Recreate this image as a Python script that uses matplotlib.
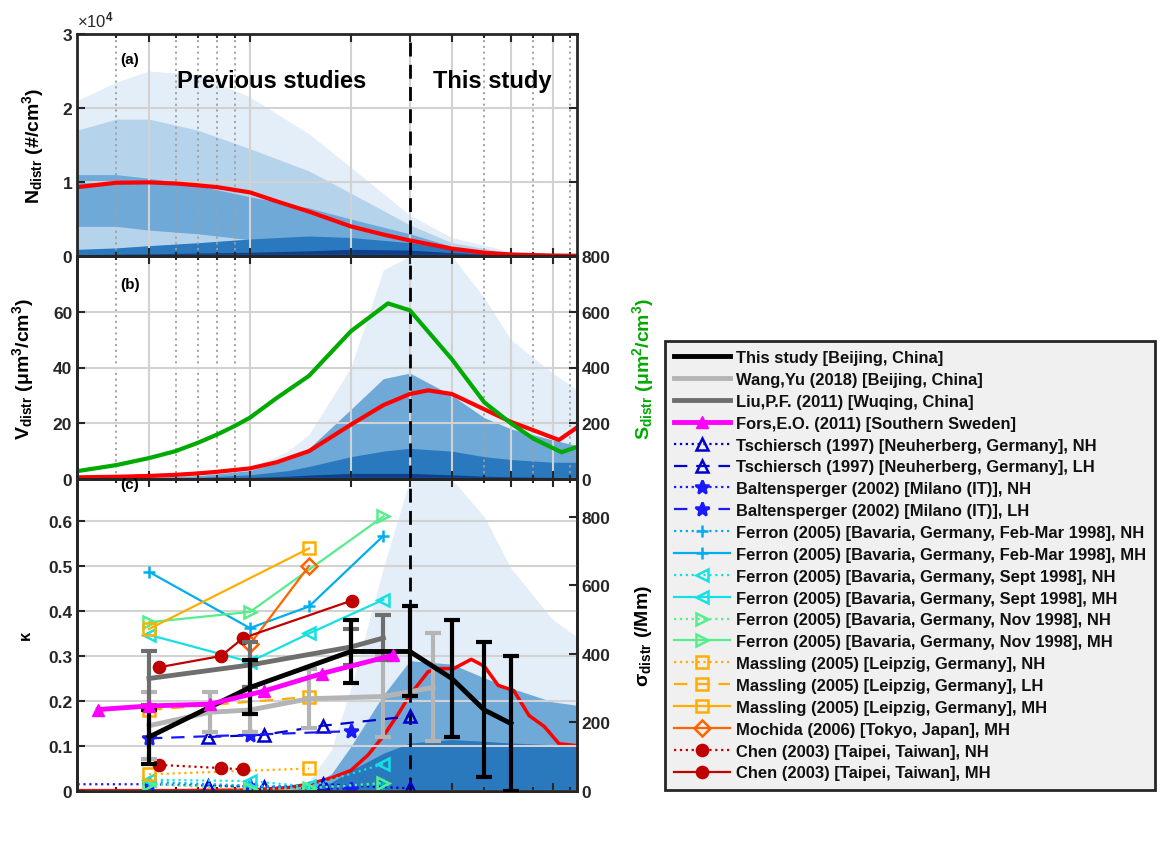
import matplotlib
matplotlib.use('Agg')
import matplotlib.pyplot as plt
from matplotlib.ticker import FixedLocator, FuncFormatter, NullFormatter

plt.rcParams['font.family'] = ['Liberation Sans', 'DejaVu Sans']
plt.rcParams['font.weight'] = 'bold'
plt.rcParams['axes.labelweight'] = 'bold'
plt.rcParams['mathtext.fontset'] = 'custom'
plt.rcParams['mathtext.rm'] = 'Liberation Sans:bold'
plt.rcParams['mathtext.it'] = 'Liberation Sans:italic:bold'
plt.rcParams['mathtext.bf'] = 'Liberation Sans:bold'
plt.rcParams['mathtext.default'] = 'rm'

# ---------------- data ----------------
x_min, x_max = 30.5, 945
major_dp = [50, 100, 200, 300, 400, 600, 800]
minor_dp = [40, 60, 70, 80, 90, 500, 700, 900]

# (a) number size distribution, mean curve
n_dp = [30.5, 40, 50, 60, 70, 80, 100, 120, 150, 200, 250, 300, 400, 500, 600, 800, 945]
n_mean = [9300, 9900, 9950, 9800, 9550, 9300, 8600, 7400, 6000, 4000, 2900, 2100,
          1000, 450, 200, 60, 30]
# (a) density envelopes
dens_a_dp = [30.5, 40, 50, 70, 100, 150, 200, 300, 400, 600, 945]
dens_a_outer = [21000, 23500, 25000, 24500, 21500, 16500, 12000, 5500, 2500, 600, 150]
dens_a_mid = [17000, 18500, 18500, 17000, 14500, 11500, 8500, 4200, 1800, 400, 100]
dens_a_core_hi = [11000, 11000, 10500, 9500, 8000, 6500, 5000, 3000, 1300, 250, 60]
dens_a_core_lo = [4000, 4000, 3500, 3000, 2200, 1200, 600, 200, 50, 0, 0]
dens_a_base = [900, 1100, 1400, 1800, 2300, 2700, 2500, 1800, 1000, 250, 50]
dens_a_navy = [200, 250, 300, 400, 500, 700, 900, 800, 450, 100, 20]

# (b) volume and surface distributions
v_dp = [30.5, 40, 50, 60, 70, 80, 100, 120, 150, 200, 250, 300, 340, 400, 500, 600,
        700, 835, 945]
v_mean = [0.6, 0.8, 1.1, 1.5, 2.0, 2.6, 3.8, 6.0, 10, 19.5, 26.5, 30.5, 31.8, 30.5,
          25, 20.5, 17.5, 14, 18.5]
s_dp = [30.5, 40, 50, 60, 70, 80, 90, 100, 120, 150, 200, 258, 300, 400, 500, 600,
        700, 850, 945]
s_mean = [28, 50, 75, 100, 130, 160, 190, 220, 290, 370, 530, 630, 605, 430, 275,
          200, 145, 96, 115]
dens_b_dp = [30.5, 50, 70, 100, 130, 150, 200, 250, 300, 400, 500, 600, 800, 945]
dens_b_light = [0.3, 0.8, 1.5, 4, 10, 16, 40, 75, 80, 80, 65, 50, 38, 32]
dens_b_mid = [0.2, 0.6, 1.2, 3, 7, 11, 25, 36, 38, 30, 22, 18, 14, 12]
dens_b_core = [0.1, 0.3, 0.6, 1.5, 3, 4.5, 8, 10, 11, 10, 8, 7, 6, 6]
dens_b_navy = [0.05, 0.15, 0.3, 0.6, 1.0, 1.4, 2, 2, 2, 1.5, 1, 0.8, 0.6, 0.5]

# (c) scattering distribution
sig_dp = [30.5, 60, 100, 130, 150, 175, 200, 225, 250, 275, 300, 340, 365, 405, 457,
          500, 550, 612, 680, 755, 835, 945]
sig_mean = [1, 1, 3, 10, 20, 38, 60, 105, 160, 220, 280, 348, 357, 357, 384, 364,
            308, 293, 220, 188, 138, 132]
dens_c_dp = [120, 150, 175, 200, 250, 300, 400, 500, 600, 800, 945]
dens_c_light = [0, 30, 120, 300, 650, 910, 910, 800, 650, 500, 450]
dens_c_mid = [0, 15, 50, 130, 280, 380, 370, 330, 300, 260, 250]
dens_c_core = [0, 8, 25, 60, 110, 140, 150, 145, 140, 135, 130]

# (c) hygroscopicity kappa
this_dp = [50, 100, 200, 300, 400, 500, 600]
this_k = [0.12, 0.23, 0.31, 0.31, 0.25, 0.18, 0.15]
this_err = [0.06, 0.06, 0.07, 0.10, 0.13, 0.15, 0.15]
wang_dp = [50, 76, 100, 150, 250, 352]
wang_k = [0.145, 0.175, 0.18, 0.205, 0.21, 0.23]
wang_err = [0.075, 0.045, 0.05, 0.065, 0.09, 0.12]
liu_dp = [50, 100, 200, 250]
liu_k = [0.25, 0.28, 0.32, 0.34]
liu_err = [0.06, 0.05, 0.04, 0.05]
fors_dp = [35.3, 50, 76, 110, 164, 268]
fors_k = [0.181, 0.189, 0.193, 0.222, 0.261, 0.302]
tsch_nh_dp = [75, 110, 165, 300]
tsch_nh_k = [0.012, 0.008, 0.015, 0.006]
tsch_lh_dp = [75, 110, 165, 300]
tsch_lh_k = [0.12, 0.125, 0.145, 0.166]
balt_nh_dp = [25, 50, 100, 200]
balt_nh_k = [0.015, 0.015, 0.01, 0.004]
balt_lh_dp = [50, 100, 200]
balt_lh_k = [0.117, 0.125, 0.133]
fer_fm_nh_dp = [50, 100, 150, 250]
fer_fm_nh_k = [0.02, 0.012, 0.008, 0.015]
fer_fm_mh_dp = [50, 100, 150, 250]
fer_fm_mh_k = [0.487, 0.362, 0.41, 0.567]
fer_sep_nh_dp = [50, 100, 150, 250]
fer_sep_nh_k = [0.025, 0.022, 0.01, 0.06]
fer_sep_mh_dp = [50, 100, 150, 250]
fer_sep_mh_k = [0.347, 0.287, 0.35, 0.425]
fer_nov_nh_dp = [50, 100, 150, 250]
fer_nov_nh_k = [0.015, 0.005, 0.006, 0.018]
fer_nov_mh_dp = [50, 100, 250]
fer_nov_mh_k = [0.375, 0.398, 0.61]
mass_nh_dp = [50, 150]
mass_nh_k = [0.037, 0.05]
mass_lh_dp = [50, 150]
mass_lh_k = [0.18, 0.209]
mass_mh_dp = [50, 150]
mass_mh_k = [0.36, 0.539]
moch_dp = [100, 150]
moch_k = [0.326, 0.50]
chen_nh_dp = [53.6, 82, 95.5]
chen_nh_k = [0.058, 0.051, 0.048]
chen_mh_dp = [53.6, 82, 95.5, 201]
chen_mh_k = [0.275, 0.30, 0.34, 0.423]

# ---------------- figure ----------------
fig = plt.figure(figsize=(11.6, 8.53), dpi=100)
L, W = 77 / 1160, 500 / 1160
ax_a = fig.add_axes([L, 1 - 257 / 853, W, 222 / 853])
ax_b = fig.add_axes([L, 1 - 480 / 853, W, 223 / 853])
ax_s = fig.add_axes([L, 1 - 792 / 853, W, 312 / 853])
ax_bs = ax_b.twinx()
ax_k = ax_s.twinx()

dark = '#262626'
c_light, c_pale, c_mid, c_core, c_base = '#e4eef8', '#b5d4ec', '#6fa9d8', '#2a78bd', '#0c3f8e'


def style(ax, grid=True):
    ax.set_xscale('log')
    ax.set_xlim(x_min, x_max)
    ax.xaxis.set_major_locator(FixedLocator(major_dp))
    ax.xaxis.set_minor_locator(FixedLocator(minor_dp))
    ax.xaxis.set_major_formatter(FuncFormatter(lambda v, p: '%d' % v))
    ax.xaxis.set_minor_formatter(NullFormatter())
    ax.tick_params(which='both', direction='in', top=True, colors=dark,
                   labelsize=12.5, width=1.5)
    ax.tick_params(which='major', length=6)
    ax.tick_params(which='minor', length=3)
    for sp in ax.spines.values():
        sp.set_color(dark)
        sp.set_linewidth(2)
    if grid:
        ax.grid(True, which='major', color='#d2d2d2', lw=1.5)
        ax.grid(True, which='minor', axis='x', color='#a0a0a0', ls=(0, (1.2, 2)), lw=1.3)


# panel (a)
ax_a.fill_between(dens_a_dp, 0, dens_a_outer, color=c_light, lw=0)
ax_a.fill_between(dens_a_dp, 0, dens_a_mid, color=c_pale, lw=0)
ax_a.fill_between(dens_a_dp, dens_a_core_lo, dens_a_core_hi, color=c_mid, lw=0)
ax_a.fill_between(dens_a_dp, 0, dens_a_base, color=c_core, lw=0)
ax_a.fill_between(dens_a_dp, 0, dens_a_navy, color=c_base, lw=0)
ax_a.plot(n_dp, n_mean, color='#ff0000', lw=3)
ax_a.axvline(300, color='k', ls=(0, (5, 3)), lw=2)
style(ax_a)
ax_a.set_ylim(0, 30000)
ax_a.set_yticks([0, 10000, 20000, 30000])
ax_a.yaxis.set_major_formatter(FuncFormatter(lambda v, p: '%g' % (v / 1e4)))
ax_a.tick_params(labelbottom=False, right=True)
ax_a.set_ylabel('N$_{distr}$ (#/cm$^{3}$)', fontsize=14, labelpad=12)
ax_a.text(0.106, 0.887, '(a)', transform=ax_a.transAxes, ha='center', va='center', fontsize=11)
ax_a.text(0.39, 0.79, 'Previous studies', transform=ax_a.transAxes, ha='center',
          va='center', fontsize=17)
ax_a.text(0.83, 0.79, 'This study', transform=ax_a.transAxes, ha='center',
          va='center', fontsize=17)
fig.text(77 / 1160, 1 - 20 / 853, '\u00d710$^{4}$', ha='left', va='center',
         fontsize=12, fontweight='normal', color=dark)

# panel (b)
ax_b.fill_between(dens_b_dp, 0, dens_b_light, color=c_light, lw=0)
ax_b.fill_between(dens_b_dp, 0, dens_b_mid, color=c_mid, lw=0)
ax_b.fill_between(dens_b_dp, 0, dens_b_core, color=c_core, lw=0)
ax_b.fill_between(dens_b_dp, 0, dens_b_navy, color=c_base, lw=0)
ax_b.plot(v_dp, v_mean, color='#ff0000', lw=3)
ax_b.axvline(300, color='k', ls=(0, (5, 3)), lw=2)
style(ax_b)
ax_b.set_ylim(0, 80)
ax_b.set_yticks([0, 20, 40, 60])
ax_b.tick_params(labelbottom=False)
ax_b.set_ylabel('V$_{distr}$ ($\\mu$m$^{3}$/cm$^{3}$)', fontsize=14, labelpad=12)
ax_b.text(0.106, 0.874, '(b)', transform=ax_b.transAxes, ha='center', va='center', fontsize=11)
ax_bs.plot(s_dp, s_mean, color='#00aa00', lw=3)
style(ax_bs, grid=False)
ax_bs.set_ylim(0, 800)
ax_bs.set_yticks([0, 200, 400, 600, 800])
ax_bs.tick_params(labelbottom=False)
ax_bs.set_ylabel('S$_{distr}$ ($\\mu$m$^{2}$/cm$^{3}$)', fontsize=14, color='#00aa00',
                 labelpad=14)

# panel (c): scattering on the main axis, kappa on the twin drawn above it
ax_s.fill_between(dens_c_dp, 0, dens_c_light, color=c_light, lw=0)
ax_s.fill_between(dens_c_dp, 0, dens_c_mid, color=c_mid, lw=0)
ax_s.fill_between(dens_c_dp, 0, dens_c_core, color=c_core, lw=0)
ax_s.plot(sig_dp, sig_mean, color='#ff0000', lw=2.5)
style(ax_s, grid=False)
ax_s.set_ylim(0, 910)
ax_s.set_yticks([0, 200, 400, 600, 800])
ax_s.yaxis.tick_right()
ax_s.yaxis.set_label_position('right')
ax_s.tick_params(labelbottom=False, left=False)
ax_s.set_ylabel('$\\sigma_{distr}$ (/Mm)', fontsize=14, labelpad=16)

style(ax_k)
ax_k.yaxis.tick_left()
ax_k.yaxis.set_label_position('left')
ax_k.set_ylim(0, 0.6933)
ax_k.set_yticks([0, 0.1, 0.2, 0.3, 0.4, 0.5, 0.6])
ax_k.yaxis.set_major_formatter(FuncFormatter(lambda v, p: '%g' % round(v, 1)))
ax_k.set_ylabel('$\\kappa$', fontsize=12, labelpad=10)
ax_k.set_xlabel('Dp (nm)', fontsize=14, labelpad=8)
ax_k.axvline(300, color='k', ls=(0, (5, 3)), lw=2)
ax_k.text(0.106, 0.985, '(c)', transform=ax_k.transAxes, ha='center', va='center', fontsize=11)

blue1, blue2 = '#0000cc', '#1a1aff'
c_fm, c_sep, c_nov = '#00aeef', '#14e1e1', '#55ee8c'
c_mass, c_moch, c_chen = '#ffae00', '#ff6400', '#c00000'
ms = 8
handles = []
h, = ax_k.plot(this_dp, this_k, color='k', lw=3.5, zorder=5)
handles.append(h)
h, = ax_k.plot(wang_dp, wang_k, color='#b4b4b4', lw=3.5, zorder=4)
handles.append(h)
h, = ax_k.plot(liu_dp, liu_k, color='#6e6e6e', lw=3.5, zorder=4)
handles.append(h)
h, = ax_k.plot(fors_dp, fors_k, color='#ff00ff', lw=3.5, marker='^', ms=9, zorder=6)
handles.append(h)
ax_k.errorbar(this_dp, this_k, yerr=this_err, fmt='none', ecolor='k', elinewidth=3,
              capsize=6, capthick=3, zorder=5)
ax_k.errorbar(wang_dp, wang_k, yerr=wang_err, fmt='none', ecolor='#b4b4b4', elinewidth=3,
              capsize=6, capthick=3, zorder=4)
ax_k.errorbar(liu_dp, liu_k, yerr=liu_err, fmt='none', ecolor='#6e6e6e', elinewidth=3,
              capsize=6, capthick=3, zorder=4)

series = [
    (tsch_nh_dp, tsch_nh_k, blue1, ':', '^'),
    (tsch_lh_dp, tsch_lh_k, blue1, (0, (6, 4)), '^'),
    (balt_nh_dp, balt_nh_k, blue2, ':', '*'),
    (balt_lh_dp, balt_lh_k, blue2, (0, (6, 4)), '*'),
    (fer_fm_nh_dp, fer_fm_nh_k, c_fm, ':', '+'),
    (fer_fm_mh_dp, fer_fm_mh_k, c_fm, '-', '+'),
    (fer_sep_nh_dp, fer_sep_nh_k, c_sep, ':', '<'),
    (fer_sep_mh_dp, fer_sep_mh_k, c_sep, '-', '<'),
    (fer_nov_nh_dp, fer_nov_nh_k, c_nov, ':', '>'),
    (fer_nov_mh_dp, fer_nov_mh_k, c_nov, '-', '>'),
    (mass_nh_dp, mass_nh_k, c_mass, ':', 's'),
    (mass_lh_dp, mass_lh_k, c_mass, (0, (6, 4)), 's'),
    (mass_mh_dp, mass_mh_k, c_mass, '-', 's'),
    (moch_dp, moch_k, c_moch, '-', 'D'),
    (chen_nh_dp, chen_nh_k, c_chen, ':', 'o'),
    (chen_mh_dp, chen_mh_k, c_chen, '-', 'o'),
]
for dp, k, col, ls, mk in series:
    filled = mk in ('o', '*', '+')
    h, = ax_k.plot(dp, k, color=col, ls=ls, lw=1.6, marker=mk, ms=ms if mk != '*' else 10,
                   mfc=col if filled else 'none', mec=col, mew=1.8)
    handles.append(h)

labels = [
    'This study [Beijing, China]',
    'Wang,Yu (2018) [Beijing, China]',
    'Liu,P.F. (2011) [Wuqing, China]',
    'Fors,E.O. (2011) [Southern Sweden]',
    'Tschiersch (1997) [Neuherberg, Germany], NH',
    'Tschiersch (1997) [Neuherberg, Germany], LH',
    'Baltensperger (2002) [Milano (IT)], NH',
    'Baltensperger (2002) [Milano (IT)], LH',
    'Ferron (2005) [Bavaria, Germany, Feb-Mar 1998], NH',
    'Ferron (2005) [Bavaria, Germany, Feb-Mar 1998], MH',
    'Ferron (2005) [Bavaria, Germany, Sept 1998], NH',
    'Ferron (2005) [Bavaria, Germany, Sept 1998], MH',
    'Ferron (2005) [Bavaria, Germany, Nov 1998], NH',
    'Ferron (2005) [Bavaria, Germany, Nov 1998], MH',
    'Massling (2005) [Leipzig, Germany], NH',
    'Massling (2005) [Leipzig, Germany], LH',
    'Massling (2005) [Leipzig, Germany], MH',
    'Mochida (2006) [Tokyo, Japan], MH',
    'Chen (2003) [Taipei, Taiwan], NH',
    'Chen (2003) [Taipei, Taiwan], MH',
]
leg = fig.legend(handles, labels, loc='upper left',
                 bbox_to_anchor=(665 / 1160, 1 - 342 / 853), fontsize=11.9,
                 numpoints=1, handlelength=3.4, handletextpad=0.35, labelspacing=0.415,
                 borderpad=0.55, borderaxespad=0, fancybox=False, framealpha=1,
                 facecolor='#f0f0f0', edgecolor=dark)
leg.get_frame().set_linewidth(2)
for t in leg.get_texts():
    t.set_color('#111111')

fig.savefig('out.png', dpi=100)
